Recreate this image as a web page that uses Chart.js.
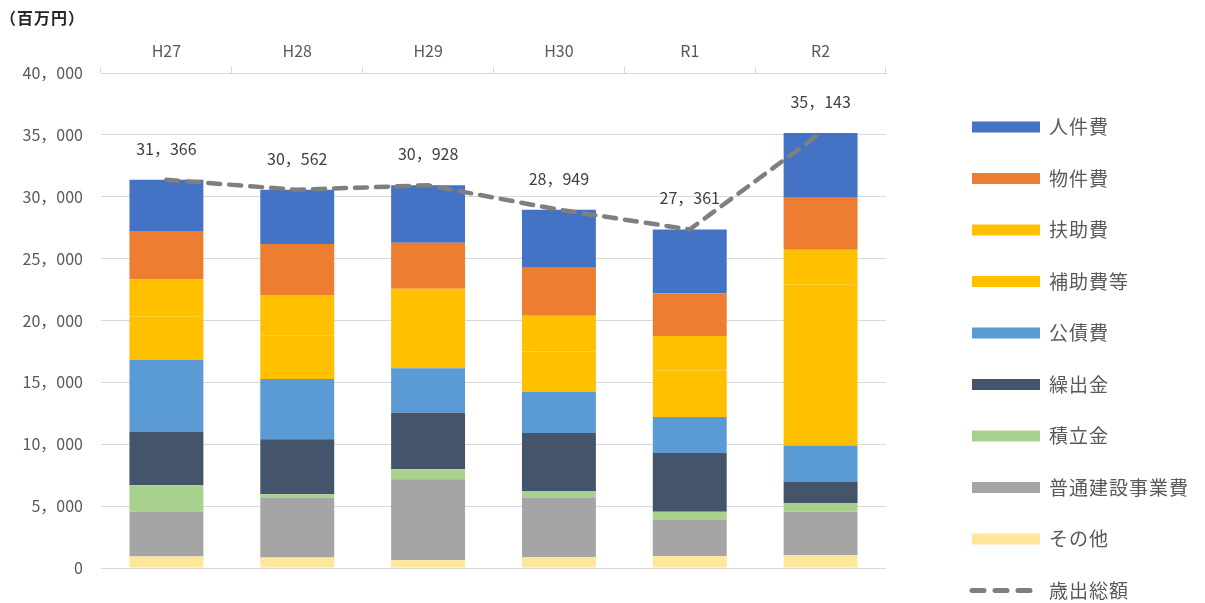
<!DOCTYPE html>
<html lang="ja">
<head>
<meta charset="utf-8">
<script src="https://cdn.jsdelivr.net/npm/chart.js@4.4.0/dist/chart.umd.min.js"></script>
<style>
  html, body { margin: 0; padding: 0; background: #fff; }
  #wrap { width: 1205px; height: 603px; position: relative; }
</style>
</head>
<body>
<div id="wrap"><canvas id="chart"></canvas></div>
<script>
// ---- data (百万円) ----
const years = ["H27", "H28", "H29", "H30", "R1", "R2"];
const totals = [31366, 30562, 30928, 28949, 27361, 35143];

const sonota = [920, 840, 620, 890, 950, 1030];        // その他
const futsuKensetsu = [3650, 4860, 6550, 4810, 2920, 3510]; // 普通建設事業費
const tsumitate = [2110, 250, 810, 520, 670, 710];     // 積立金
const kuridashi = [4350, 4460, 4570, 4680, 4760, 1750]; // 繰出金
const kosaihi = [5770, 4870, 3600, 3330, 2900, 2900];  // 公債費
const hojohi = [3540, 3520, 3570, 3270, 3760, 12980];  // 補助費等
const fujohi = [2970, 3270, 2840, 2890, 2780, 2840];   // 扶助費
const bukkenhi = [3930, 4110, 3730, 3870, 3470, 4200]; // 物件費
const jinkenhi = [4126, 4382, 4638, 4689, 5151, 5223]; // 人件費

const FONT = '"Noto Sans CJK JP", "Noto Sans", sans-serif';
const TEXT = "#595959";

const fmt = (v) => v.toLocaleString("en-US").replace(/,/g, "，");

function bar(label, data, color) {
  return {
    type: "bar",
    label,
    data,
    backgroundColor: color,
    borderWidth: 0,
    stack: "s",
    order: 1,
    barPercentage: 0.565,
    categoryPercentage: 1,
  };
}

const lineSet = {
  type: "line",
  label: "歳出総額",
  data: totals,
  borderColor: "#7f7f7f",
  borderWidth: 4.5,
  borderDash: [12, 9],
  borderCapStyle: "round",
  pointRadius: 0,
  tension: 0,
  fill: false,
  order: 0,
};

const datasets = [
  lineSet,
  bar("その他", sonota, "#FFE699"),
  bar("普通建設事業費", futsuKensetsu, "#A5A5A5"),
  bar("積立金", tsumitate, "#A9D18E"),
  bar("繰出金", kuridashi, "#44546A"),
  bar("公債費", kosaihi, "#5B9BD5"),
  bar("補助費等", hojohi, "#FFC000"),
  bar("扶助費", fujohi, "#FFC000"),
  bar("物件費", bukkenhi, "#ED7D31"),
  bar("人件費", jinkenhi, "#4472C4"),
];

const legendOrder = ["人件費", "物件費", "扶助費", "補助費等", "公債費", "繰出金", "積立金", "普通建設事業費", "その他", "歳出総額"];

//------------------------------------------------------
// extras: unit title, total labels, legend on the right
//------------------------------------------------------
const extras = {
  id: "extras",
  afterDraw(chart) {
    const ctx = chart.ctx;
    ctx.save();

    // unit
    ctx.fillStyle = "#262626";
    ctx.font = `bold 16px ${FONT}`;
    ctx.textAlign = "left";
    ctx.textBaseline = "middle";
    ctx.letterSpacing = "1px";
    ctx.fillText("（百万円）", 0, 18);
    ctx.letterSpacing = "0px";

    // totals above the line
    const meta = chart.getDatasetMeta(0);
    ctx.fillStyle = "#404040";
    ctx.font = `16px ${FONT}`;
    ctx.textAlign = "center";
    meta.data.forEach((p, i) => {
      ctx.fillText(fmt(totals[i]), p.x, p.y - 31);
    });

    // legend
    ctx.font = `19px ${FONT}`;
    ctx.textAlign = "left";
    ctx.letterSpacing = "1px";
    legendOrder.forEach((name, i) => {
      const ds = chart.data.datasets.find((d) => d.label === name);
      const cy = 127 + i * 51.5;
      if (ds.type === "line") {
        ctx.save();
        ctx.strokeStyle = ds.borderColor;
        ctx.lineWidth = 5;
        ctx.lineCap = "round";
        ctx.setLineDash([12, 11]);
        ctx.beginPath();
        ctx.moveTo(972, cy);
        ctx.lineTo(1036, cy);
        ctx.stroke();
        ctx.restore();
      } else {
        ctx.fillStyle = ds.backgroundColor;
        ctx.fillRect(972, cy - 5.5, 68, 11);
      }
      ctx.fillStyle = TEXT;
      ctx.fillText(name, 1049, cy);
    });

    ctx.restore();
  },
};

new Chart(document.getElementById("chart"), {
  data: { labels: years, datasets },
  options: {
    responsive: true,
    maintainAspectRatio: false,
    animation: false,
    layout: { padding: { top: 0, right: 319, bottom: 35, left: 0 } },
    plugins: {
      legend: { display: false },
      tooltip: { enabled: false },
    },
    scales: {
      x: {
        position: "top",
        stacked: true,
        offset: true,
        grid: {
          offset: true,
          drawOnChartArea: false,
          drawTicks: true,
          tickLength: 6,
          color: "#d9d9d9",
        },
        border: { color: "#d9d9d9" },
        ticks: { color: TEXT, font: { family: FONT, size: 16 }, padding: 6 },
        afterFit: (s) => { s.height = 73; },
      },
      y: {
        stacked: true,
        min: 0,
        max: 40000,
        grid: { color: "#d9d9d9", drawTicks: false },
        border: { display: false },
        ticks: {
          stepSize: 5000,
          color: TEXT,
          padding: 18,
          font: { family: FONT, size: 16 },
          callback: (v) => fmt(v),
        },
        afterFit: (s) => { s.width = 101; },
      },
    },
  },
  plugins: [extras],
});
</script>
</body>
</html>
